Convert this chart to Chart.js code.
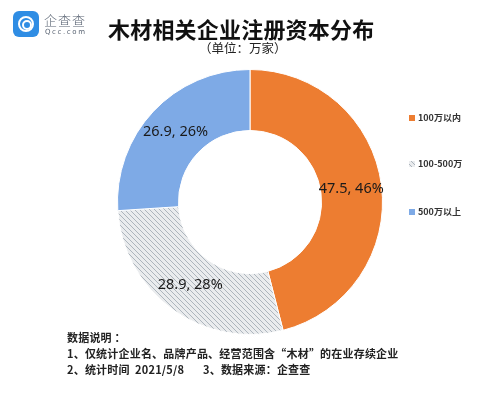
<!DOCTYPE html>
<html>
<head>
<meta charset="utf-8">
<script src="https://cdn.jsdelivr.net/npm/chart.js@4"></script>
<style>
  html, body { margin: 0; padding: 0; background: #fff; }
  #wrap { position: relative; width: 480px; height: 395px; overflow: hidden; font-family: "Noto Sans CJK SC", "Noto Sans", sans-serif; }
  #chart { position: absolute; left: 0; top: 0; }
  .abs { position: absolute; white-space: nowrap; }
  #logoIcon { left: 13px; top: 11px; width: 26px; height: 26px; border-radius: 6px; background: #2f8de4; }
  #logoIcon:before { content: ""; position: absolute; left: 5px; top: 5px; width: 12px; height: 12px; border: 2.5px solid #fff; border-radius: 50%; }
  #logoIcon:after { content: ""; position: absolute; left: 9px; top: 9px; width: 6px; height: 6px; border: 2px solid #fff; border-radius: 50%; }
  #logoName { left: 44px; top: 10px; font-size: 13px; color: #5a6473; letter-spacing: 1px; font-weight: 300; }
  #logoUrl { left: 45px; top: 28px; font-size: 7px; color: #5a6473; letter-spacing: 1.6px; font-family: "DejaVu Sans", sans-serif; }
  #title { left: 108px; top: 12px; font-size: 22px; font-weight: bold; color: #111; letter-spacing: 0.2px; }
  #subtitle { left: 199px; top: 38px; font-size: 12.5px; color: #222; }
  .note { left: 67px; font-size: 11px; font-weight: bold; color: #222; letter-spacing: 0.2px; }
</style>
</head>
<body>
<div id="wrap">
  <canvas id="chart" width="480" height="395"></canvas>
  <div id="logoIcon" class="abs"></div>
  <div id="logoName" class="abs">企查查</div>
  <div id="logoUrl" class="abs">Qcc.com</div>
  <div id="title" class="abs">木材相关企业注册资本分布</div>
  <div id="subtitle" class="abs">（单位：万家）</div>
  <div class="abs note" style="top:329px">数据说明 ：</div>
  <div class="abs note" style="top:345px">1、仅统计企业名、品牌产品、经营范围含“木材”的在业存续企业</div>
  <div class="abs note" style="top:361px">2、统计时间&nbsp; 2021/5/8&nbsp;&nbsp;&nbsp;&nbsp;&nbsp;&nbsp; 3、数据来源：企查查</div>
</div>
<script>
const categories = ["100万以内", "100-500万", "500万以上"];
const values = [47.5, 28.9, 26.9];
const percents = ["46%", "28%", "26%"];

function hatchPattern() {
  const c = document.createElement("canvas");
  c.width = 5; c.height = 5;
  const g = c.getContext("2d");
  g.fillStyle = "#eaecee";
  g.fillRect(0, 0, 5, 5);
  g.strokeStyle = "#adb5bd";
  g.lineWidth = 1;
  g.beginPath();
  g.moveTo(-1, -1); g.lineTo(6, 6);
  g.moveTo(-1, 4); g.lineTo(1, 6);
  g.moveTo(4, -1); g.lineTo(6, 1);
  g.stroke();
  return g.createPattern(c, "repeat");
}

const ctx = document.getElementById("chart").getContext("2d");
const colors = ["#ed7d31", hatchPattern(), "#7eaae6"];

const sliceLabels = {
  id: "sliceLabels",
  afterDatasetsDraw(chart) {
    const g = chart.ctx;
    const meta = chart.getDatasetMeta(0);
    g.save();
    g.font = "14.5px 'Noto Sans', sans-serif";
    g.fillStyle = "#1a1a1a";
    g.textAlign = "center";
    g.textBaseline = "middle";
    meta.data.forEach((arc, i) => {
      const p = arc.getCenterPoint();
      g.fillText(values[i] + ", " + percents[i], p.x, p.y);
    });
    g.restore();
  }
};

const sideLegend = {
  id: "sideLegend",
  afterDraw(chart) {
    const g = chart.ctx;
    const ys = [118, 164, 212];
    g.save();
    g.font = "bold 9px 'Noto Sans CJK SC', sans-serif";
    g.textBaseline = "middle";
    categories.forEach((name, i) => {
      g.fillStyle = colors[i];
      g.fillRect(409, ys[i] - 3, 6, 6);
      g.fillStyle = "#333";
      g.fillText(name, 418, ys[i]);
    });
    g.restore();
  }
};

new Chart(ctx, {
  type: "doughnut",
  data: {
    labels: categories,
    datasets: [{
      data: values,
      backgroundColor: colors,
      borderColor: "#fff",
      borderWidth: 1
    }]
  },
  options: {
    responsive: false,
    animation: false,
    cutout: "54%",
    layout: { padding: { left: 117, right: 97, top: 69, bottom: 60 } },
    plugins: { legend: { display: false }, tooltip: { enabled: false } }
  },
  plugins: [sliceLabels, sideLegend]
});
</script>
</body>
</html>
